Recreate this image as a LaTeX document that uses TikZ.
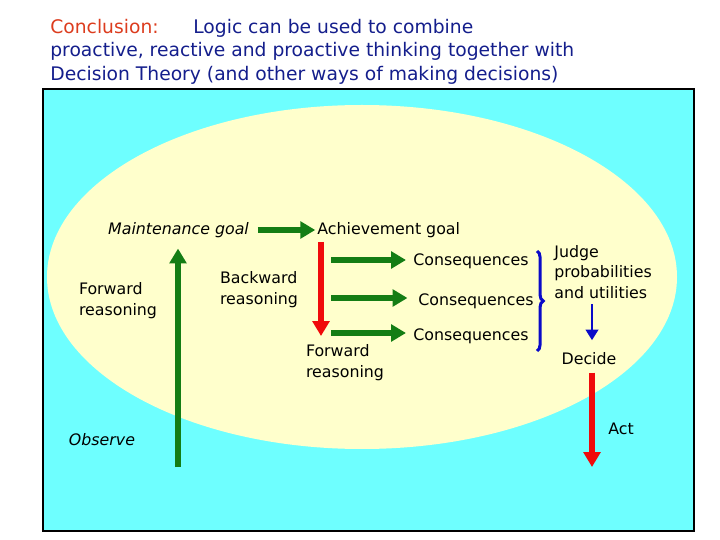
\documentclass[tikz,border=0pt]{standalone}
\usepackage{fontspec}
\setmainfont{DejaVu Sans}
\usetikzlibrary{arrows.meta,decorations.pathreplacing}

\definecolor{skycyan}{RGB}{110,255,255}
\definecolor{paleyellow}{RGB}{255,255,204}
\definecolor{darkgreen}{RGB}{20,125,20}
\definecolor{brightred}{RGB}{240,10,10}
\definecolor{braceblue}{RGB}{10,10,200}
\definecolor{titleblue}{RGB}{20,30,140}
\definecolor{titlered}{RGB}{220,60,30}

\tikzset{
  titletext/.style = {font=\fontsize{10.65}{13}\selectfont, text=titleblue, inner sep=0pt, anchor=base west},
  lbl/.style = {font=\fontsize{9}{11.8}\selectfont, inner sep=0pt, align=left},
  greenarrow/.style = {draw=darkgreen, line width=3.2pt, -{Triangle[length=8.5pt,width=9.5pt]}},
  redarrow/.style = {draw=brightred, line width=3.2pt, -{Triangle[length=8.5pt,width=9.5pt]}},
  bluearrow/.style = {draw=braceblue, line width=1.7pt, -{Triangle[length=6pt,width=7pt]}},
  bluebrace/.style = {draw=braceblue, line width=1.7pt, decorate, decoration={brace, amplitude=3.5pt}}
}

\begin{document}
\begin{tikzpicture}
    \useasboundingbox (0,0) rectangle (14.4,-10.8);

    % background
    \draw [fill=skycyan, line width=0.8pt] (0.86,-1.78) rectangle (13.88,-10.62);
    \fill [paleyellow] (7.24,-5.54) ellipse [x radius=6.3, y radius=3.44];

    % title
    \node (concl) [titletext, text=titlered] at (1.0,-0.68) {Conclusion:};
    \node (logic) [titletext] at (3.86,-0.68) {Logic can be used to combine};
    \node (line2) [titletext] at (1.0,-1.14) {proactive, reactive and proactive thinking together with};
    \node (line3) [titletext] at (1.0,-1.62) {Decision Theory (and other ways of making decisions)};

    % labels
    \node (maint) [lbl, font=\fontsize{9}{11.8}\selectfont\itshape] at (3.57,-4.6) {Maintenance goal};
    \node (achieve) [lbl, anchor=west] at (6.34,-4.6) {Achievement goal};
    \node (fwdleft) [lbl] at (2.36,-6.02) {Forward\\reasoning};
    \node (bwd) [lbl] at (5.18,-5.79) {Backward\\reasoning};
    \node (fwdmid) [lbl] at (6.9,-7.26) {Forward\\reasoning};
    \node (observe) [lbl, font=\fontsize{9}{11.8}\selectfont\itshape] at (2.04,-8.8) {Observe};
    \node (cons1) [lbl, anchor=west] at (8.26,-5.22) {Consequences};
    \node (cons2) [lbl, anchor=west] at (8.36,-6.02) {Consequences};
    \node (cons3) [lbl, anchor=west] at (8.26,-6.72) {Consequences};
    \node (judge) [lbl, anchor=west] at (11.08,-5.44) {Judge\\probabilities\\and utilities};
    \node (decide) [lbl] at (11.78,-7.18) {Decide};
    \node (act) [lbl] at (12.42,-8.58) {Act};

    % free ends
    \coordinate (obsfoot) at (3.56,-9.34);
    \coordinate (bwtop) at (6.42,-4.84);
    \coordinate (bwtip) at (6.42,-6.72);
    \coordinate (g1) at (6.62,-5.2);
    \coordinate (g2) at (6.62,-5.96);
    \coordinate (g3) at (6.62,-6.66);
    \coordinate (bracetop) at (10.74,-5.02);
    \coordinate (bracebot) at (10.74,-7.02);
    \coordinate (actfoot) at (11.84,-9.34);

    % connectors
    \draw [greenarrow, shorten <=5pt, shorten >=1pt] (maint.east) -- (achieve.west);
    \draw [greenarrow, shorten >=6pt] (obsfoot) -- (obsfoot |- maint.south);
    \draw [redarrow] (bwtop) -- (bwtip);
    \draw [greenarrow, shorten >=4pt] (g1) -- (g1 -| cons1.west);
    \draw [greenarrow, shorten >=6pt] (g2) -- (g2 -| cons2.west);
    \draw [greenarrow, shorten >=4pt] (g3) -- (g3 -| cons3.west);
    \draw [bluebrace] (bracetop) -- (bracebot);
    \draw [bluearrow, shorten <=3pt, shorten >=7pt] (actfoot |- judge.south) -- (actfoot |- decide.north);
    \draw [redarrow, shorten <=4pt] (actfoot |- decide.south) -- (actfoot);
\end{tikzpicture}
\end{document}
